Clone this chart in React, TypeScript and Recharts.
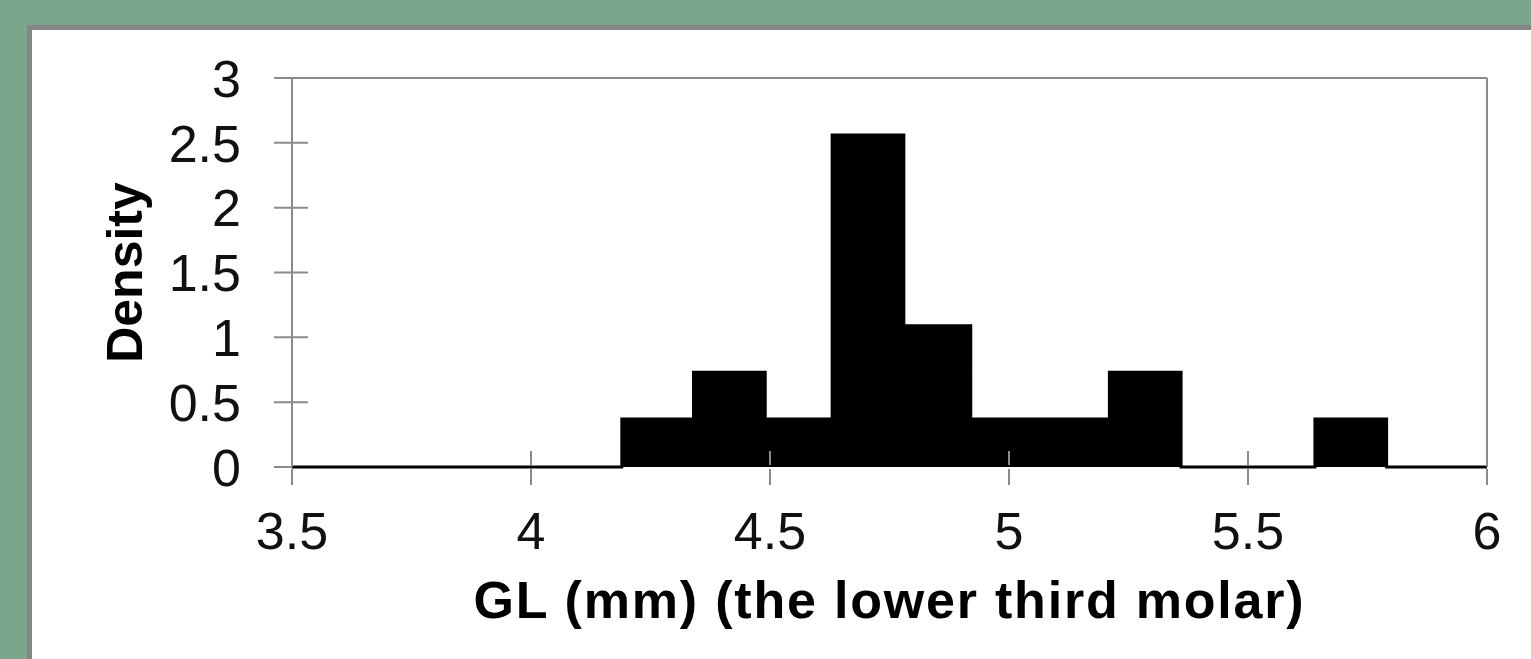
import React from 'react';
import { ComposedChart, Area, XAxis, YAxis, ReferenceLine, Label } from 'recharts';

// histogram bin edges (mm), padded with the axis ends so the zero baseline is drawn
const binEdges = [3.5, 4.19, 4.34, 4.49, 4.63, 4.78, 4.92, 5.07, 5.21, 5.36, 5.5, 5.64, 5.79, 6];
// density of the bin that starts at each edge
const densities = [0, 0.37, 0.73, 0.37, 2.56, 1.09, 0.37, 0.37, 0.73, 0, 0, 0.37, 0, 0];
const xTicks = [3.5, 4, 4.5, 5, 5.5, 6];
const yTicks = [0, 0.5, 1, 1.5, 2, 2.5, 3];
const xTitle = 'GL (mm) (the lower third molar)';
const yTitle = 'Density';

const data = binEdges.map((x, i) => ({ x, density: densities[i] }));

const W = 1531;
const H = 659;
const FONT = '"Liberation Sans", Arial, sans-serif';
const GRID = '#8a8a8a';

// excel style "cross" tick marks
const TICK_OUT = 18;
const TICK_IN = 16;
const Y_GAP = 33;
const X_GAP = 27;

const YTick = (props: any) => {
    const { x, y, payload } = props;
    const x0 = x + Y_GAP;
    // the zero tick only shows outside, the black baseline covers the rest
    const inner = payload.value === 0 ? 0 : TICK_IN;
    return (
        <g>
            <line x1={x0} x2={x0 + TICK_OUT + inner} y1={y} y2={y} stroke={GRID} strokeWidth={2} />
            <text x={x} y={y} dy="0.36em" textAnchor="end" fontSize={52} fontFamily={FONT} fill="#111">
                {payload.value}
            </text>
        </g>
    );
};

const XTick = (props: any) => {
    const { x, y, payload } = props;
    const base = y - X_GAP - TICK_OUT;
    return (
        <g>
            <line x1={x} x2={x} y1={base - TICK_IN} y2={base - 2} stroke={GRID} strokeWidth={2} />
            <line x1={x} x2={x} y1={base + 2} y2={base + TICK_OUT} stroke={GRID} strokeWidth={2} />
            <text x={x} y={y} dy="0.71em" textAnchor="middle" fontSize={52} fontFamily={FONT} fill="#111">
                {payload.value}
            </text>
        </g>
    );
};

export default function App() {
    return (
        <div style={{ position: 'fixed', left: 0, top: 0, width: W, height: H, background: '#7aa68e', overflow: 'hidden' }}>
            {/* white chart panel, runs off the right and bottom edge */}
            <div
                style={{
                    position: 'absolute',
                    left: 27,
                    top: 25,
                    width: W,
                    height: H,
                    background: '#fff',
                    borderLeft: '5px solid #858585',
                    borderTop: '5px solid #858585',
                }}
            />
            <div style={{ position: 'absolute', left: 0, top: 0 }}>
                <ComposedChart width={W} height={H} data={data} margin={{ top: 78, right: 44, left: 0, bottom: 0 }}>
                    <XAxis
                        dataKey="x"
                        type="number"
                        domain={[3.5, 6]}
                        ticks={xTicks}
                        height={192}
                        tickSize={TICK_OUT}
                        tickMargin={X_GAP}
                        tickLine={false}
                        axisLine={false}
                        tick={<XTick />}
                        interval={0}
                    >
                        <Label
                            content={({ viewBox }: any) => (
                                <text
                                    x={viewBox.x + viewBox.width / 2}
                                    y={618}
                                    textAnchor="middle"
                                    fontSize={52}
                                    fontWeight="bold"
                                    letterSpacing={1.8}
                                    fontFamily={FONT}
                                    fill="#000"
                                >
                                    {xTitle}
                                </text>
                            )}
                        />
                    </XAxis>
                    <YAxis
                        type="number"
                        domain={[0, 3]}
                        ticks={yTicks}
                        width={292}
                        tickSize={TICK_OUT}
                        tickMargin={Y_GAP}
                        tickLine={false}
                        axisLine={{ stroke: GRID, strokeWidth: 2 }}
                        tick={<YTick />}
                        interval={0}
                    >
                        <Label
                            content={({ viewBox }: any) => {
                                const cy = viewBox.y + viewBox.height / 2;
                                return (
                                    <text
                                        x={142}
                                        y={cy}
                                        transform={`rotate(-90, 142, ${cy})`}
                                        textAnchor="middle"
                                        fontSize={50}
                                        fontWeight="bold"
                                        fontFamily={FONT}
                                        fill="#000"
                                    >
                                        {yTitle}
                                    </text>
                                );
                            }}
                        />
                    </YAxis>
                    <ReferenceLine y={3} stroke={GRID} strokeWidth={2} />
                    <ReferenceLine x={6} stroke={GRID} strokeWidth={2} />
                    <Area
                        dataKey="density"
                        type="stepAfter"
                        stroke="#000"
                        strokeWidth={3}
                        fill="#000"
                        fillOpacity={1}
                        baseValue={0}
                        dot={false}
                        activeDot={false}
                        isAnimationActive={false}
                    />
                </ComposedChart>
            </div>
        </div>
    );
}
